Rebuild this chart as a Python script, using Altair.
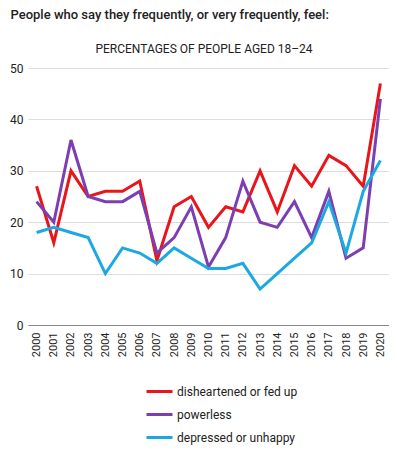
import altair as alt
import pandas as pd

years = ["2000", "2001", "2002", "2003", "2004", "2005", "2006", "2007", "2008", "2009", "2010",
         "2011", "2012", "2013", "2014", "2015", "2016", "2017", "2018", "2019", "2020"]
series = ["disheartened or fed up", "powerless", "depressed or unhappy"]
colors = ["#e8151b", "#7c3fb2", "#1ca8e0"]
disheartened = [27, 16, 30, 25, 26, 26, 28, 12.5, 23, 25, 19, 23, 22, 30, 22, 31, 27, 33, 31, 27, 47]
powerless = [24, 20, 36, 25, 24, 24, 26, 14, 17, 23, 11.3, 17, 28, 20, 19, 24, 17, 26, 13, 15, 44]
depressed = [18, 19, 18, 17, 10, 15, 14, 12, 15, 13, 11, 11, 12, 7, 10, 13, 16, 24, 14, 26, 32]

title = "People who say they frequently, or very frequently, feel:"
subtitle = "PERCENTAGES OF PEOPLE AGED 18\u201324"

rows = []
for name, vals in zip(series, [disheartened, powerless, depressed]):
    for y, v in zip(years, vals):
        rows.append({"year": y, "value": v, "series": name})
df = pd.DataFrame(rows)

lines = alt.Chart(df).mark_line(strokeWidth=3).encode(
    x=alt.X("year:O", scale=alt.Scale(type="point", padding=0.5),
            axis=alt.Axis(title=None, labelAngle=270, labelFontSize=11, labelPadding=7,
                          ticks=False, domainColor="#888", grid=False, labelColor="#222")),
    y=alt.Y("value:Q", scale=alt.Scale(domain=[0, 50]),
            axis=alt.Axis(title=None, values=[0, 10, 20, 30, 40, 50], domain=False, ticks=False,
                          labelFontSize=12, labelPadding=5, gridColor="#dddddd", labelColor="#222")),
    color=alt.Color("series:N", sort=series, scale=alt.Scale(domain=series, range=colors),
                    legend=alt.Legend(title=None, orient="none", legendX=117, legendY=309,
                                      symbolType="stroke", symbolSize=676, symbolStrokeWidth=3,
                                      labelFontSize=12, labelColor="#222", labelOffset=3,
                                      rowPadding=2)),
)

sub = alt.Chart(pd.DataFrame({"t": [subtitle]})).mark_text(
    fontSize=12, color="#222", align="center", baseline="alphabetic"
).encode(text="t:N", x=alt.value(176), y=alt.value(-15))

chart = alt.layer(lines, sub).properties(
    width=361, height=257,
    title=alt.TitleParams(text=title, anchor="start", fontSize=13, fontWeight=500, color="#222",
                          dx=1, offset=11, baseline="alphabetic"),
    autosize=alt.AutoSizeParams(type="none"),
    padding={"left": 20, "top": 60, "right": 0, "bottom": 121},
).configure(font="Roboto").configure_view(stroke=None)

chart.save("out.html", embed_options={"renderer": "svg", "actions": False})
